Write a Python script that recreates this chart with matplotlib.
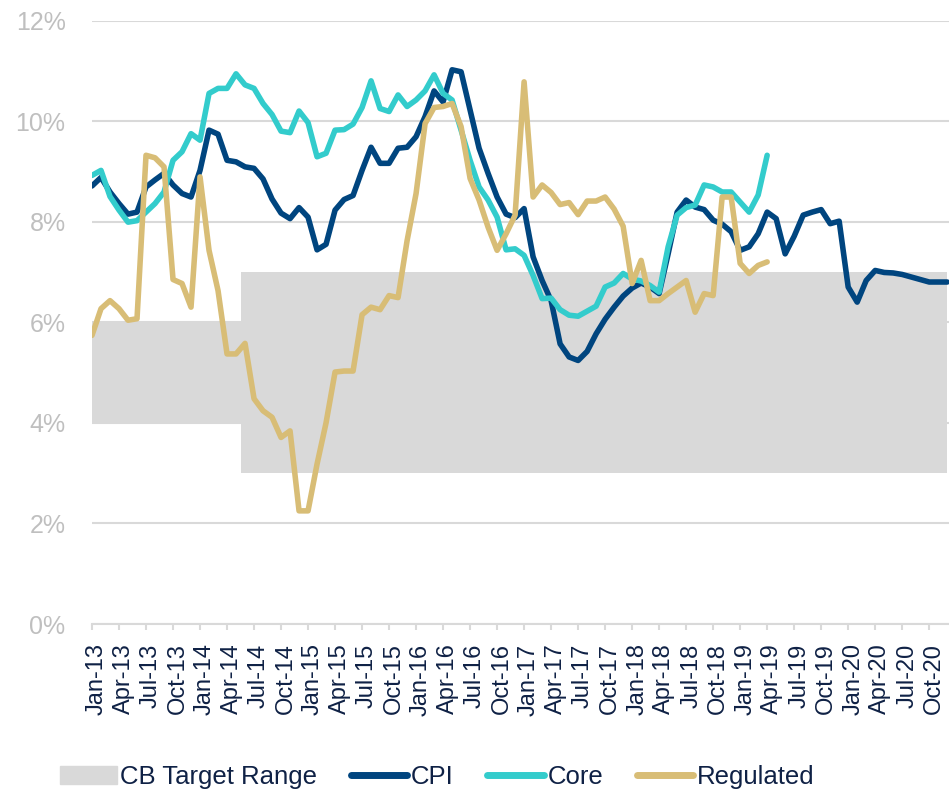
import numpy as np
import pandas as pd
import matplotlib
matplotlib.use('Agg')
import matplotlib.pyplot as plt
import matplotlib.transforms as mtransforms
from matplotlib.patches import Patch
from matplotlib.lines import Line2D

plt.rcParams['font.family'] = ['Liberation Sans', 'DejaVu Sans']

# Meses (Jan-13 .. Dec-20)
meses = pd.date_range('2013-01-01', periods=96, freq='MS')

# Inflación total (CPI), % anual
cpi = [8.71, 8.88, 8.59, 8.36, 8.15, 8.19, 8.69, 8.83, 8.96, 8.73, 8.56, 8.49,
       9.02, 9.82, 9.74, 9.22, 9.19, 9.09, 9.06, 8.85, 8.45, 8.17, 8.06, 8.28,
       8.09, 7.44, 7.55, 8.23, 8.44, 8.52, 9.02, 9.48, 9.16, 9.16, 9.46, 9.48,
       9.69, 10.09, 10.60, 10.38, 11.02, 10.98, 10.22, 9.46, 8.96, 8.49, 8.15, 8.08,
       8.26, 7.30, 6.83, 6.43, 5.57, 5.31, 5.24, 5.42, 5.77, 6.06, 6.30, 6.52,
       6.68, 6.78, 6.70, 6.57, 7.36, 8.19, 8.43, 8.29, 8.24, 8.03, 7.95, 7.80,
       7.43, 7.50, 7.76, 8.19, 8.06, 7.36, 7.71, 8.13, 8.19, 8.24, 7.96, 8.01,
       6.70, 6.40, 6.83, 7.03, 6.99, 6.98, 6.95, 6.90, 6.85, 6.80, 6.80, 6.80]

# Inflación subyacente (Core), hasta Apr-19
core = [8.92, 9.02, 8.50, 8.23, 7.99, 8.02, 8.19, 8.36, 8.59, 9.22, 9.39, 9.75,
        9.62, 10.55, 10.65, 10.65, 10.94, 10.72, 10.65, 10.35, 10.13, 9.80, 9.77, 10.20,
        9.97, 9.29, 9.36, 9.82, 9.83, 9.94, 10.27, 10.80, 10.25, 10.19, 10.52, 10.29,
        10.42, 10.60, 10.92, 10.55, 10.42, 9.82, 9.22, 8.69, 8.43, 8.09, 7.44, 7.46,
        7.33, 6.93, 6.47, 6.48, 6.25, 6.14, 6.12, 6.22, 6.32, 6.70, 6.78, 6.97,
        6.86, 6.82, 6.73, 6.60, 7.50, 8.13, 8.28, 8.33, 8.73, 8.69, 8.59, 8.59,
        8.39, 8.19, 8.53, 9.32]

# Precios regulados (Regulated), hasta Apr-19
regulated = [5.74, 6.27, 6.43, 6.27, 6.04, 6.07, 9.32, 9.27, 9.09, 6.85, 6.77, 6.30,
             8.89, 7.43, 6.63, 5.37, 5.37, 5.58, 4.48, 4.24, 4.11, 3.71, 3.84, 2.25,
             2.25, 3.18, 4.00, 5.01, 5.03, 5.03, 6.15, 6.30, 6.25, 6.53, 6.49, 7.62,
             8.56, 9.95, 10.27, 10.29, 10.35, 9.89, 8.86, 8.43, 7.89, 7.43, 7.76, 8.13,
             10.78, 8.49, 8.73, 8.58, 8.34, 8.38, 8.14, 8.41, 8.41, 8.49, 8.25, 7.91,
             6.77, 7.23, 6.43, 6.43, 6.57, 6.70, 6.83, 6.20, 6.57, 6.53, 8.49, 8.49,
             7.17, 6.97, 7.13, 7.20]

# Rango meta del banco central
banda_baja = [4.0] * 17 + [3.0] * 79
banda_alta = [6.0] * 17 + [7.0] * 79

color_cpi = '#00457F'
color_core = '#33CCCC'
color_reg = '#D8BD76'
color_banda = '#D9D9D9'
color_texto = '#0F2145'

fig = plt.figure(figsize=(9.49, 7.89), dpi=100)
ax = fig.add_axes([92 / 949, 1 - 624 / 789, (949 - 92) / 949, (624 - 20.5) / 789])

x = np.arange(len(meses))
ax.fill_between(x, banda_baja, banda_alta, step='mid', color=color_banda, lw=0, zorder=1)

lw = 4.0
ax.plot(x[:len(cpi)], cpi, color=color_cpi, lw=lw, solid_capstyle='round', solid_joinstyle='round', zorder=3)
ax.plot(x[:len(core)], core, color=color_core, lw=lw, solid_capstyle='round', solid_joinstyle='round', zorder=4)
ax.plot(x[:len(regulated)], regulated, color=color_reg, lw=lw, solid_capstyle='round', solid_joinstyle='round', zorder=5)

ax.set_xlim(0, 95.2)
ax.set_ylim(0, 12)

# Eje Y
ax.set_yticks(range(0, 13, 2))
ax.set_yticklabels([f'{v}%' for v in range(0, 13, 2)])
ax.yaxis.grid(True, color=color_banda, lw=1.5, zorder=0)
ax.set_axisbelow(True)
ax.tick_params(axis='y', length=0, pad=19, labelsize=18, labelcolor='#BFBFBF')

# Eje X
ax.set_xticks(x[::3])
ax.set_xticklabels(meses[::3].strftime('%b-%y'), rotation=90)
ax.tick_params(axis='x', length=4, width=1.5, color=color_banda, labelsize=17,
               labelcolor=color_texto, pad=10)
desplazar = mtransforms.ScaledTranslation(5 / 100, 0, fig.dpi_scale_trans)
for lbl in ax.get_xticklabels():
    lbl.set_transform(lbl.get_transform() + desplazar)

for lado in ['left', 'top', 'right']:
    ax.spines[lado].set_visible(False)
ax.spines['bottom'].set_color(color_banda)
ax.spines['bottom'].set_linewidth(1.5)

# Leyenda
lw_ley = 5.0
handles = [Patch(color=color_banda),
           Line2D([], [], color=color_cpi, lw=lw_ley, solid_capstyle='round'),
           Line2D([], [], color=color_core, lw=lw_ley, solid_capstyle='round'),
           Line2D([], [], color=color_reg, lw=lw_ley, solid_capstyle='round')]
fig.legend(handles, ['CB Target Range', 'CPI', 'Core', 'Regulated'],
           loc='center', bbox_to_anchor=(0.461, 0.0152), ncol=4, frameon=False,
           fontsize=18.5, handlelength=2.2, handletextpad=0.15, columnspacing=1.3,
           labelcolor=color_texto)

fig.savefig('out.png', dpi=100)
